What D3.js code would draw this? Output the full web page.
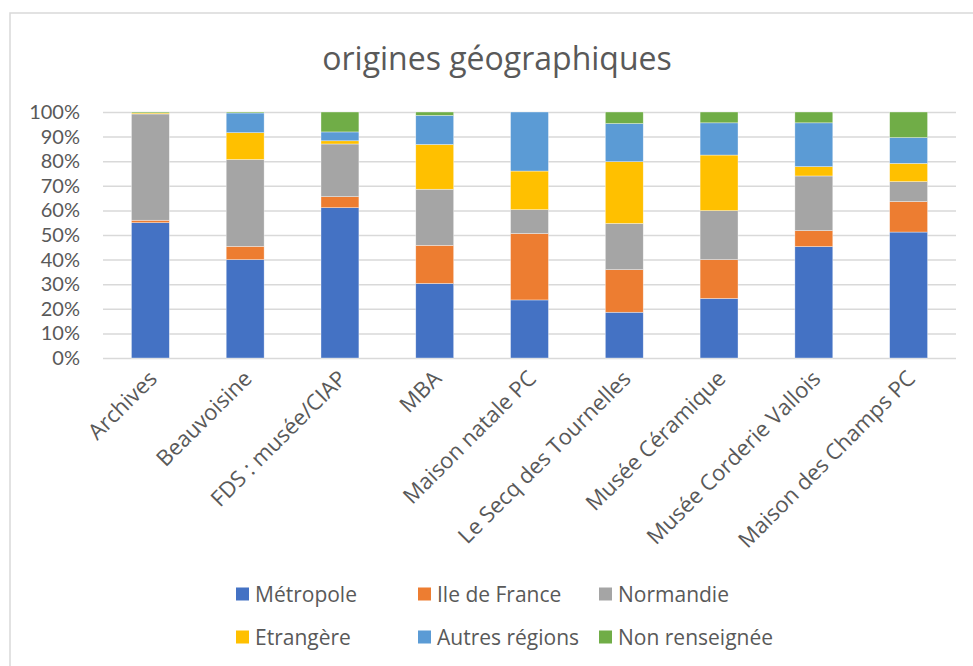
<!DOCTYPE html>
<html>
  <head>
    <meta charset="utf-8" />
    <script src="https://d3js.org/d3.v7.min.js"></script>
    <style>
      body { margin: 0; background: #fff; }
      text { font-family: "Open Sans", sans-serif; fill: #595959; }
    </style>
  </head>
  <body>
    <div id="chart"></div>
    <script type="text/javascript">
var width = 973, height = 666;

// categories (sites)
var sites = ["Archives", "Beauvoisine", "FDS : musée/CIAP", "MBA", "Maison natale PC",
  "Le Secq des Tournelles", "Musée Céramique", "Musée Corderie Vallois", "Maison des Champs PC"];

// series, in % of visitors per site
var metropole   = [55.0, 40.0, 61.1, 30.3, 23.6, 18.6, 24.2, 45.3, 51.2];
var ileDeFrance = [1.0, 5.4, 4.5, 15.5, 27.0, 17.3, 15.8, 6.5, 12.4];
var normandie   = [43.2, 35.3, 21.4, 22.8, 9.7, 18.8, 19.9, 22.2, 8.1];
var etrangere   = [0.4, 10.9, 1.3, 18.2, 15.7, 25.1, 22.6, 3.8, 7.4];
var autres      = [0.0, 8.0, 3.6, 11.8, 24.0, 15.5, 13.1, 17.8, 10.5];
var nonRens     = [0.4, 0.4, 8.1, 1.4, 0.0, 4.7, 4.4, 4.4, 10.4];

var seriesNames = ["Métropole", "Ile de France", "Normandie", "Etrangère", "Autres régions", "Non renseignée"];
var seriesValues = [metropole, ileDeFrance, normandie, etrangere, autres, nonRens];
var colors = ["#4472C4", "#ED7D31", "#A5A5A5", "#FFC000", "#5B9BD5", "#70AD47"];

var yTicks = [0, 0.1, 0.2, 0.3, 0.4, 0.5, 0.6, 0.7, 0.8, 0.9, 1];

var margin = {left: 103, right: 17, top: 112, bottom: 308};

var svg = d3.select("#chart").append("svg")
  .attr("width", width)
  .attr("height", height);

// chart frame
svg.append("rect")
  .attr("x", 10).attr("y", 13)
  .attr("width", width).attr("height", height)
  .attr("fill", "none")
  .attr("stroke", "#d9d9d9")
  .attr("stroke-width", 1.5);

svg.append("text")
  .attr("x", 497).attr("y", 70)
  .attr("text-anchor", "middle")
  .style("font-size", "32px")
  .text("origines géographiques");

// build rows for d3.stack
var rows = sites.map(function(s, i) {
  var r = {site: s};
  seriesNames.forEach(function(n, j) { r[n] = seriesValues[j][i]; });
  return r;
});

var stacked = d3.stack()
  .keys(seriesNames)
  .offset(d3.stackOffsetExpand)(rows);

var x = d3.scaleBand()
  .domain(sites)
  .range([margin.left, width - margin.right])
  .paddingInner(0.6)
  .paddingOuter(0.3);

var y = d3.scaleLinear()
  .domain([0, 1])
  .range([height - margin.bottom, margin.top]);

// gridlines
var yAxis = svg.append("g")
  .attr("transform", "translate(" + margin.left + ",0)")
  .call(d3.axisLeft(y)
    .tickValues(yTicks)
    .tickSize(-(width - margin.right - margin.left))
    .tickPadding(23)
    .tickFormat(d3.format(".0%")));
yAxis.select(".domain").remove();
yAxis.selectAll(".tick line")
  .attr("stroke", "#d9d9d9")
  .attr("stroke-width", 1.5);
// Lato keeps the line box under the 24.6px tick spacing
yAxis.selectAll(".tick text")
  .attr("fill", "#595959")
  .style("font-size", "20px")
  .style("font-family", "Lato, sans-serif");

// bars
svg.append("g").selectAll("g")
  .data(stacked)
  .enter().append("g")
    .attr("fill", function(d, i) { return colors[i]; })
  .selectAll("rect")
  .data(function(d) { return d; })
  .enter().append("rect")
    .attr("x", function(d) { return x(d.data.site); })
    .attr("y", function(d) { return y(d[1]); })
    .attr("width", x.bandwidth())
    .attr("height", function(d) { return Math.max(0, y(d[0]) - y(d[1])); })
    .attr("stroke", "#fff")
    .attr("stroke-width", 0.6)
    .attr("stroke-opacity", 0.6);

// category labels
svg.append("g").selectAll("text")
  .data(sites)
  .enter().append("text")
    .attr("transform", function(d) {
      return "translate(" + (x(d) + x.bandwidth() / 2 + 8) + "," + (y(0) + 22) + ") rotate(-45)";
    })
    .attr("text-anchor", "end")
    .style("font-size", "22px")
    .text(function(d) { return d; });

// legend
var legendX = [236, 418, 599], legendY = [594, 637];
var legend = svg.append("g").selectAll("g")
  .data(seriesNames)
  .enter().append("g")
    .attr("transform", function(d, i) {
      return "translate(" + legendX[i % 3] + "," + legendY[Math.floor(i / 3)] + ")";
    });
legend.append("rect")
  .attr("x", 0).attr("y", -6.5)
  .attr("width", 13).attr("height", 13)
  .attr("fill", function(d, i) { return colors[i]; });
legend.append("text")
  .attr("x", 19).attr("y", 7.5)
  .style("font-size", "21px")
  .text(function(d) { return d; });
    </script>
  </body>
</html>
